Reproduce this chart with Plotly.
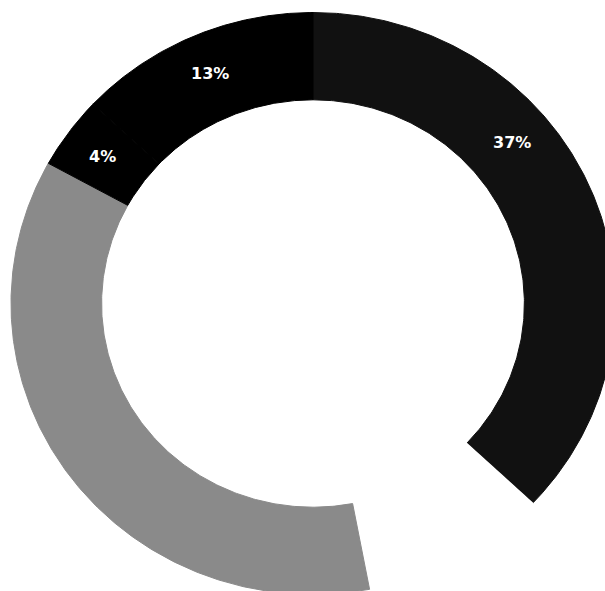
import numpy as np
import plotly.graph_objects as go

# Ring segments, clockwise from 12 o'clock
segments = ["Segment A", "Segment B", "Segment C", "Segment D", "Segment E"]
values = [37, 10, 36, 4, 13]
labels = ["37%", "", "", "4%", "13%"]
colors = ["#111111", "#ffffff", "#8a8a8a", "#000000", "#000000"]

OUTER = 1.0
INNER = 0.70
LABEL_R = 0.86
# where along its slice each label sits (0 = start, 1 = end)
label_frac = {"37%": 0.375}

fig = go.Figure()
total = float(sum(values))
start = 0.0
for name, val, lab, col in zip(segments, values, labels, colors):
    sweep = val / total * 2 * np.pi
    th = np.linspace(start, start + sweep, 240)
    xs = np.concatenate([OUTER * np.sin(th), INNER * np.sin(th[::-1])])
    ys = np.concatenate([OUTER * np.cos(th), INNER * np.cos(th[::-1])])
    is_blank = col.lower() == "#ffffff"
    fig.add_trace(go.Scatter(
        x=np.append(xs, xs[0]), y=np.append(ys, ys[0]),
        mode="lines", fill="toself", fillcolor=col,
        line=dict(width=0 if is_blank else 1, color=col),
        hoverinfo="skip", name=name,
    ))
    if lab:
        f = label_frac.get(lab, 0.5)
        a = start + sweep * f
        fig.add_annotation(
            x=LABEL_R * np.sin(a), y=LABEL_R * np.cos(a), text=lab,
            showarrow=False,
            font=dict(family="DejaVu Sans", size=16, color="white", weight="bold"),
        )
    start += sweep

fig.update_layout(
    width=605, height=591,
    margin=dict(l=0, r=0, t=0, b=0),
    paper_bgcolor="white", plot_bgcolor="white",
    showlegend=False,
    xaxis=dict(range=[-1.0364, 0.9669], visible=False, fixedrange=True),
    yaxis=dict(range=[-0.988, 1.043], visible=False, fixedrange=True),
)

fig.write_html("out.html")
